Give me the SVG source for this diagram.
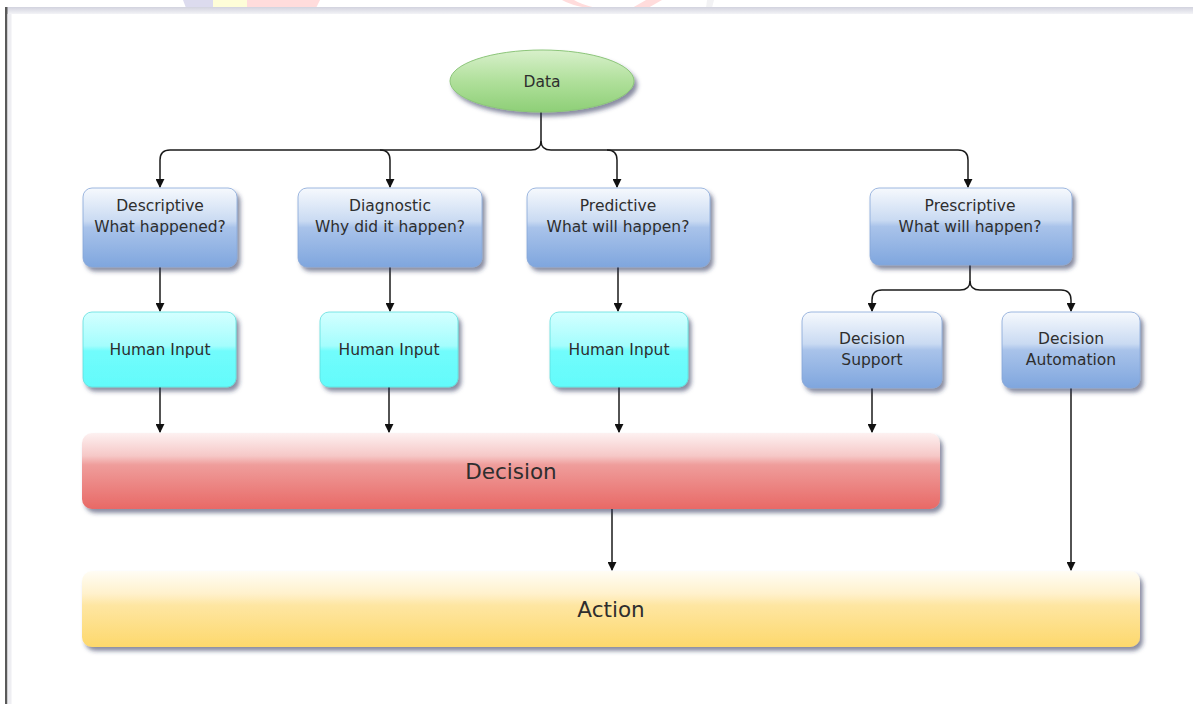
<svg xmlns="http://www.w3.org/2000/svg" width="1193" height="704" viewBox="0 0 1193 704">
<defs>
<linearGradient id="gBlue" x1="0" y1="0" x2="0" y2="1">
<stop offset="0" stop-color="#f6f9fd"/>
<stop offset="0.42" stop-color="#c9daf2"/>
<stop offset="0.5" stop-color="#a9c3ea"/>
<stop offset="1" stop-color="#7fa6de"/>
</linearGradient>
<linearGradient id="gCyan" x1="0" y1="0" x2="0" y2="1">
<stop offset="0" stop-color="#d4ffff"/>
<stop offset="0.45" stop-color="#a4fdfd"/>
<stop offset="0.52" stop-color="#72fcfc"/>
<stop offset="1" stop-color="#62fbfb"/>
</linearGradient>
<linearGradient id="gRed" x1="0" y1="0" x2="0" y2="1">
<stop offset="0" stop-color="#fdf1f1"/>
<stop offset="0.3" stop-color="#f6c8c7"/>
<stop offset="0.42" stop-color="#ef9d9b"/>
<stop offset="1" stop-color="#e86966"/>
</linearGradient>
<linearGradient id="gYel" x1="0" y1="0" x2="0" y2="1">
<stop offset="0" stop-color="#fffdf5"/>
<stop offset="0.3" stop-color="#fff1cc"/>
<stop offset="0.45" stop-color="#fee6a2"/>
<stop offset="1" stop-color="#fdd86c"/>
</linearGradient>
<linearGradient id="gGreen" x1="0" y1="0" x2="0" y2="1">
<stop offset="0" stop-color="#d8f0cb"/>
<stop offset="0.5" stop-color="#b0e09b"/>
<stop offset="1" stop-color="#8ecf77"/>
</linearGradient>
<linearGradient id="gTop" x1="0" y1="0" x2="0" y2="1">
<stop offset="0" stop-color="#d2d3de"/>
<stop offset="1" stop-color="#f3f3f7"/>
</linearGradient>
<filter id="sh" x="-10%" y="-20%" width="125%" height="150%">
<feDropShadow dx="3" dy="4" stdDeviation="2.2" flood-color="#2a2f55" flood-opacity="0.55"/>
</filter>
<marker id="arr" viewBox="0 0 10 10" refX="9" refY="5" markerWidth="9" markerHeight="9" markerUnits="userSpaceOnUse" orient="auto">
<path d="M0,0 L10,5 L0,10 z" fill="#111"/>
</marker>
</defs>
<style>
.t{font-family:"DejaVu Sans","Liberation Sans",sans-serif;font-size:15.5px;fill:#2e2e2e;text-anchor:middle}
.big{font-family:"DejaVu Sans","Liberation Sans",sans-serif;font-size:21.5px;fill:#2e2e2e;text-anchor:middle}
.c{fill:none;stroke:#1a1a1a;stroke-width:1.5}
.blue{fill:url(#gBlue);stroke:#86a6d8;stroke-width:0.8}
.cyan{fill:url(#gCyan);stroke:#5fdede;stroke-width:0.8}
</style>
<rect x="0" y="0" width="1193" height="704" fill="#ffffff"/>
<g id="watermark">
<polygon points="183,0 213,0 213,8 186,8" fill="#dcdbee"/>
<polygon points="213,0 247,0 247,8 213,8" fill="#fefdd8"/>
<polygon points="247,0 320,0 316,8 247,8" fill="#ffdcdc"/>
<path d="M562,0 Q570,5 588,8 L596,8 Q580,4 574,0 z" fill="#ffdcdc"/>
<polygon points="646,0 662,0 648,8 632,8" fill="#ffdcdc"/>
<polygon points="707,0 714,0 712,8 706,8" fill="#f2f2f4"/>
</g>
<g id="frame">
<rect x="5" y="7" width="1188" height="7" fill="url(#gTop)"/>
<rect x="5" y="7" width="2.5" height="697" fill="#5a5a5a"/>
<rect x="7.5" y="14" width="4" height="690" fill="#eeeef2"/>
</g>
<g id="connectors">
<path class="c" d="M541,112 V141 Q541,150 531,150 H170 Q160,150 160,160 V187" marker-end="url(#arr)"/>
<path class="c" d="M541,141 Q541,150 551,150 H958 Q968,150 968,160 V187" marker-end="url(#arr)"/>
<path class="c" d="M380,150 Q390,150 390,160 V187" marker-end="url(#arr)"/>
<path class="c" d="M607,150 Q617,150 617,160 V187" marker-end="url(#arr)"/>
<path class="c" d="M160,267 V311" marker-end="url(#arr)"/>
<path class="c" d="M390,267 V311" marker-end="url(#arr)"/>
<path class="c" d="M618,267 V311" marker-end="url(#arr)"/>
<path class="c" d="M970,265 V281 Q970,290 960,290 H882 Q872,290 872,300 V311" marker-end="url(#arr)"/>
<path class="c" d="M970,281 Q970,290 980,290 H1061 Q1071,290 1071,300 V311" marker-end="url(#arr)"/>
<path class="c" d="M160,387 V432" marker-end="url(#arr)"/>
<path class="c" d="M389,387 V432" marker-end="url(#arr)"/>
<path class="c" d="M619,387 V432" marker-end="url(#arr)"/>
<path class="c" d="M872,388 V432" marker-end="url(#arr)"/>
<path class="c" d="M612,509 V570" marker-end="url(#arr)"/>
<path class="c" d="M1071,388 V570" marker-end="url(#arr)"/>
</g>
<g id="data">
<ellipse cx="542" cy="81" rx="92" ry="31" fill="url(#gGreen)" stroke="#8cc57a" stroke-width="1" filter="url(#sh)"/>
<text class="t" x="542" y="87">Data</text>
</g>
<g id="descriptive">
<rect class="blue" x="83" y="188" width="154" height="79" rx="9" filter="url(#sh)"/>
<text class="t" x="160" y="211">Descriptive</text>
<text class="t" x="160" y="232">What happened?</text>
</g>
<g id="diagnostic">
<rect class="blue" x="298" y="188" width="184" height="79" rx="9" filter="url(#sh)"/>
<text class="t" x="390" y="211">Diagnostic</text>
<text class="t" x="390" y="232">Why did it happen?</text>
</g>
<g id="predictive">
<rect class="blue" x="527" y="188" width="183" height="79" rx="9" filter="url(#sh)"/>
<text class="t" x="618" y="211">Predictive</text>
<text class="t" x="618" y="232">What will happen?</text>
</g>
<g id="prescriptive">
<rect class="blue" x="870" y="188" width="202" height="77" rx="9" filter="url(#sh)"/>
<text class="t" x="970" y="211">Prescriptive</text>
<text class="t" x="970" y="232">What will happen?</text>
</g>
<g id="human1">
<rect class="cyan" x="83" y="312" width="153" height="75" rx="9" filter="url(#sh)"/>
<text class="t" x="160" y="355">Human Input</text>
</g>
<g id="human2">
<rect class="cyan" x="320" y="312" width="138" height="75" rx="9" filter="url(#sh)"/>
<text class="t" x="389" y="355">Human Input</text>
</g>
<g id="human3">
<rect class="cyan" x="550" y="312" width="138" height="75" rx="9" filter="url(#sh)"/>
<text class="t" x="619" y="355">Human Input</text>
</g>
<g id="decision-support">
<rect class="blue" x="802" y="312" width="140" height="76" rx="9" filter="url(#sh)"/>
<text class="t" x="872" y="344">Decision</text>
<text class="t" x="872" y="365">Support</text>
</g>
<g id="decision-automation">
<rect class="blue" x="1002" y="312" width="138" height="76" rx="9" filter="url(#sh)"/>
<text class="t" x="1071" y="344">Decision</text>
<text class="t" x="1071" y="365">Automation</text>
</g>
<g id="decision">
<rect x="82" y="433" width="858" height="76" rx="10" fill="url(#gRed)" filter="url(#sh)"/>
<text class="big" x="511" y="479">Decision</text>
</g>
<g id="action">
<rect x="82" y="571" width="1058" height="76" rx="10" fill="url(#gYel)" filter="url(#sh)"/>
<text class="big" x="611" y="617">Action</text>
</g>
</svg>
